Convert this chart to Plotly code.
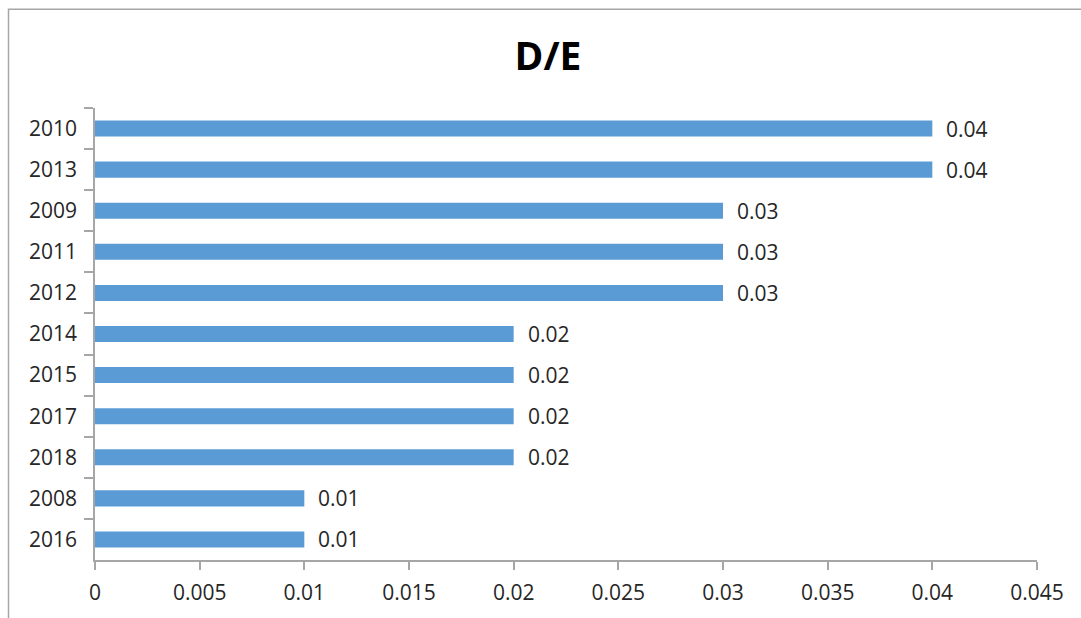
import plotly.graph_objects as go

# Debt-to-equity ratio by year, sorted by value
years = ["2010", "2013", "2009", "2011", "2012", "2014", "2015", "2017", "2018", "2008", "2016"]
de_ratio = [0.04, 0.04, 0.03, 0.03, 0.03, 0.02, 0.02, 0.02, 0.02, 0.01, 0.01]
label_text = ["0.04", "0.04", "0.03", "0.03", "0.03", "0.02", "0.02", "0.02", "0.02", "0.01", "0.01"]

x_ticks = [0, 0.005, 0.01, 0.015, 0.02, 0.025, 0.03, 0.035, 0.04, 0.045]
x_tick_labels = ["0", "0.005", "0.01", "0.015", "0.02", "0.025", "0.03", "0.035", "0.04", "0.045"]

W, H = 1081, 618
L, R, T, B = 95, 1037, 108, 564  # plot area in pixels

FONT = "Open Sans"
TXT = "#262626"
AXIS = "#A6A6A6"

fig = go.Figure()
fig.add_trace(go.Bar(
    x=de_ratio,
    y=years,
    orientation="h",
    marker=dict(color="#5B9BD5", line=dict(width=0)),
    hoverinfo="x+y",
))

# value labels just right of each bar end (category axes take serial indices)
annotations = [
    dict(x=v, y=i, xref="x", yref="y", text=t, showarrow=False,
         xanchor="left", yanchor="middle", xshift=12,
         font=dict(family=FONT, size=21, color=TXT))
    for i, (v, t) in enumerate(zip(de_ratio, label_text))
]

def px_x(p):
    return (p - L) / (R - L)

def px_y(q):
    return (B - q) / (B - T)

fig.update_layout(
    width=W, height=H,
    margin=dict(l=L, r=W - R, t=T, b=H - B),
    paper_bgcolor="white",
    plot_bgcolor="white",
    showlegend=False,
    bargap=0.61,
    title=dict(text="<b>D/E</b>", x=548 / W, xref="container", xanchor="center",
               y=1 - 56 / H, yref="container", yanchor="middle",
               font=dict(family=FONT, size=39, color="#000000")),
    xaxis=dict(
        range=[0, 0.045],
        tickmode="array", tickvals=x_ticks, ticktext=x_tick_labels,
        showgrid=False, zeroline=False,
        showline=True, linecolor=AXIS, linewidth=1.5,
        ticks="outside", ticklen=8, tickcolor=AXIS, tickwidth=1.5,
        tickfont=dict(family=FONT, size=21, color=TXT),
        ticklabelstandoff=5,
    ),
    yaxis=dict(
        type="category",
        autorange="reversed",
        showgrid=False, zeroline=False,
        showline=True, linecolor=AXIS, linewidth=1.5,
        ticks="outside", ticklen=9, tickcolor=AXIS, tickwidth=1.5,
        tickson="boundaries",
        tickfont=dict(family=FONT, size=21, color=TXT),
        ticklabelstandoff=12,
    ),
    annotations=annotations,
    shapes=[dict(type="rect", xref="paper", yref="paper",
                 x0=px_x(8.5), x1=px_x(1100), y0=px_y(640), y1=px_y(8.5),
                 line=dict(color=AXIS, width=1.5), layer="below")],
)

fig.write_html("out.html")
